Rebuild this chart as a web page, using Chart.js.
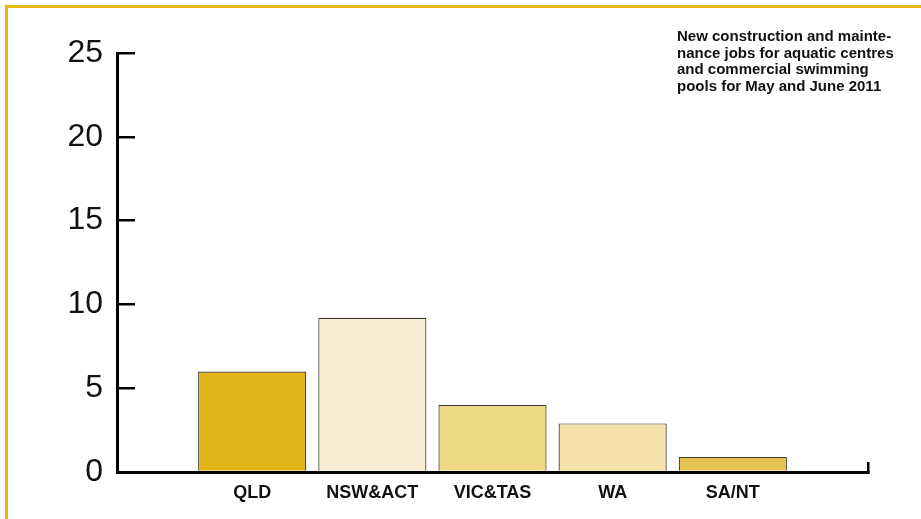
<!DOCTYPE html>
<html>
<head>
<meta charset="utf-8">
<script src="https://cdn.jsdelivr.net/npm/chart.js@4"></script>
<style>
  body { margin: 0; background: #fff; }
  #wrap { position: relative; width: 921px; height: 519px; overflow: hidden; }
  #frame { position: absolute; left: 5px; top: 5px; right: -10px; bottom: -10px;
           border-left: 3px solid #e8b80f; border-top: 3px solid #e8b80f; }
  #note { position: absolute; left: 677px; top: 28px; width: 240px;
          font: bold 15px "Liberation Sans", Arial, sans-serif; line-height: 16.7px; color: #111; }
  canvas { position: absolute; left: 0; top: 0; }
</style>
</head>
<body>
<div id="wrap">
  <div id="frame"></div>
  <canvas id="chart" width="921" height="519"></canvas>
  <div id="note">New construction and mainte-<br>nance jobs for aquatic centres<br>and commercial swimming<br>pools for May and June 2011</div>
</div>
<script>
const regions = ["QLD", "NSW&ACT", "VIC&TAS", "WA", "SA/NT"];
const jobs = [6, 9.2, 4, 2.9, 0.9];
const barColours = ["#e1b518", "#f8ecd4", "#f0d985", "#f5e2aa", "#e6c250"];
const yTicks = [0, 5, 10, 15, 20, 25];

const xMin = -0.125;
const xMax = 6.125;

const ctx = document.getElementById("chart").getContext("2d");
const chart = new Chart(ctx, {
  type: "bar",
  data: {
    datasets: [{
      data: jobs.map((v, i) => ({ x: i + 1, y: v })),
      backgroundColor: barColours,
      borderColor: "#3a3830",
      borderWidth: 1.2,
      categoryPercentage: 1,
      barPercentage: 0.9
    }]
  },
  options: {
    responsive: false,
    animation: false,
    layout: { padding: { top: 53, right: 53, left: 0, bottom: 0 } },
    plugins: { legend: { display: false }, tooltip: { enabled: false } },
    scales: {
      x: {
        type: "linear",
        min: xMin,
        max: xMax,
        offset: false,
        z: 1,
        afterBuildTicks: s => {
          s.ticks = regions.map((r, i) => ({ value: i + 1 })).concat([{ value: xMax }]);
        },
        afterFit: s => { s.height = 47; },
        border: { color: "#000", width: 3 },
        grid: {
          offset: false,
          drawOnChartArea: false,
          tickLength: -10,
          lineWidth: 2.5,
          color: c => (c.tick && c.tick.value === xMax ? "#000" : "rgba(0,0,0,0)")
        },
        ticks: {
          padding: 20,
          color: "#111",
          font: { family: "'Liberation Sans', Arial, sans-serif", size: 18, weight: "bold" },
          callback: v => regions[v - 1] || ""
        }
      },
      y: {
        min: 0,
        max: 25,
        z: 1,
        afterBuildTicks: s => { s.ticks = yTicks.map(v => ({ value: v })); },
        afterFit: s => { s.width = 117; s.paddingTop = 0; s.paddingBottom = 0; },
        border: { color: "#000", width: 3 },
        grid: {
          drawOnChartArea: false,
          tickLength: -18,
          lineWidth: 2.5,
          color: "#000"
        },
        ticks: {
          padding: 32,
          color: "#111",
          font: { family: "'Liberation Sans', Arial, sans-serif", size: 32 }
        }
      }
    }
  }
});
</script>
</body>
</html>
